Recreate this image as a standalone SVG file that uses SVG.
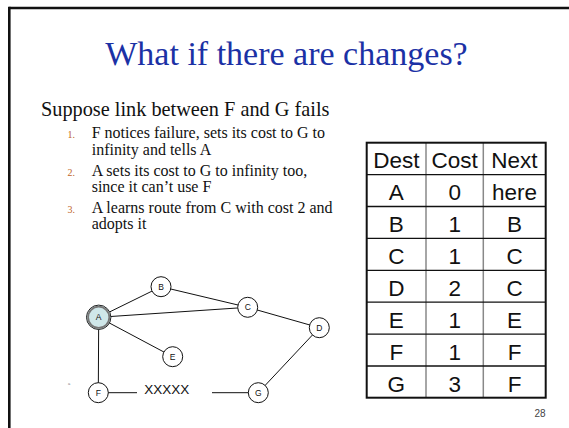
<svg xmlns="http://www.w3.org/2000/svg" width="569" height="428" viewBox="0 0 569 428">
<style>
.title{font-family:"Liberation Serif",serif;font-size:34px;fill:#1b31a5}
.body{font-family:"Liberation Serif",serif;fill:#111}
.num{font-family:"Liberation Serif",serif;font-size:10px;fill:#c0652a}
.node circle{fill:#fff;stroke:#111;stroke-width:1}
.node text{font-family:"Liberation Sans",Arial,sans-serif;font-size:8.5px;fill:#111;text-anchor:middle}
.edge{stroke:#111;stroke-width:1;fill:none}
.cell{font-family:"Liberation Sans",Arial,sans-serif;font-size:22.5px;fill:#111;text-anchor:middle}
</style>
<rect width="569" height="428" fill="#fff"/>
<line x1="9.3" y1="8" x2="569" y2="8" stroke="#111" stroke-width="2.6"/>
<line x1="9.3" y1="6.7" x2="9.3" y2="428" stroke="#111" stroke-width="2.6"/>
<text class="title" x="286.5" y="65" text-anchor="middle">What if there are changes?</text>
<text class="body" x="41" y="115.7" font-size="20.3">Suppose link between F and G fails</text>
<g class="body" font-size="16">
<text class="num" x="67.5" y="138.3">1.</text>
<text x="91.7" y="138.3">F notices failure, sets its cost to G to</text>
<text x="91.7" y="155">infinity and tells A</text>
<text class="num" x="67.5" y="176">2.</text>
<text x="91.7" y="176">A sets its cost to G to infinity too,</text>
<text x="91.7" y="191.7">since it can’t use F</text>
<text class="num" x="67.5" y="213.3">3.</text>
<text x="91.7" y="213.3">A learns route from C with cost 2 and</text>
<text x="91.7" y="229.3">adopts it</text>
</g>
<g id="connectors">
<line class="edge" x1="98.7" y1="317.3" x2="161" y2="286.7"/>
<line class="edge" x1="161" y1="286.7" x2="247.7" y2="307.3"/>
<line class="edge" x1="98.7" y1="317.3" x2="247.7" y2="307.3"/>
<line class="edge" x1="247.7" y1="307.3" x2="319.3" y2="327.7"/>
<line class="edge" x1="98.7" y1="317.3" x2="172.7" y2="356.7"/>
<line class="edge" x1="98.7" y1="317.3" x2="98.3" y2="392.7"/>
<line class="edge" x1="319.3" y1="327.7" x2="258.3" y2="392.7"/>
<line class="edge" x1="98.3" y1="392.7" x2="137" y2="392.7"/>
<line class="edge" x1="212" y1="392.7" x2="258.3" y2="392.7"/>
</g>
<text x="166.7" y="393.5" font-family="Liberation Sans,Arial,sans-serif" font-size="13.5" text-anchor="middle" fill="#111">XXXXX</text>
<text x="69" y="384.5" font-family="Liberation Sans,Arial,sans-serif" font-size="4" text-anchor="middle" fill="#777">a</text>
<g id="node-A" class="node">
<circle cx="98.7" cy="317.3" r="12.2" style="fill:#cfe7e9;stroke:#222;stroke-width:1"/>
<circle cx="98.7" cy="317.3" r="10.6" style="fill:#cfe7e9;stroke:#777;stroke-width:1.8"/>
<text x="98.7" y="320.3">A</text>
</g>
<g id="node-B" class="node"><circle cx="161" cy="286.7" r="10"/><text x="161" y="289.7">B</text></g>
<g id="node-C" class="node"><circle cx="247.7" cy="307.3" r="10"/><text x="247.7" y="310.3">C</text></g>
<g id="node-D" class="node"><circle cx="319.3" cy="327.7" r="10"/><text x="319.3" y="330.7">D</text></g>
<g id="node-E" class="node"><circle cx="172.7" cy="356.7" r="10"/><text x="172.7" y="359.7">E</text></g>
<g id="node-F" class="node"><circle cx="98.3" cy="392.7" r="10"/><text x="98.3" y="395.7">F</text></g>
<g id="node-G" class="node"><circle cx="258.3" cy="392.7" r="10"/><text x="258.3" y="395.7">G</text></g>
<g id="table">
<g stroke="#888" stroke-width="1.5">
<line x1="426" y1="142.7" x2="426" y2="397.7"/>
<line x1="483.3" y1="142.7" x2="483.3" y2="397.7"/>
</g>
<g stroke="#111" stroke-width="1.3">
<line x1="366.7" y1="174.6" x2="545.7" y2="174.6"/>
<line x1="366.7" y1="206.5" x2="545.7" y2="206.5"/>
<line x1="366.7" y1="238.4" x2="545.7" y2="238.4"/>
<line x1="366.7" y1="270.3" x2="545.7" y2="270.3"/>
<line x1="366.7" y1="302.2" x2="545.7" y2="302.2"/>
<line x1="366.7" y1="334.1" x2="545.7" y2="334.1"/>
<line x1="366.7" y1="366" x2="545.7" y2="366"/>
</g>
<rect x="366.7" y="142.7" width="179" height="255" fill="none" stroke="#111" stroke-width="2"/>
<g class="cell">
<text x="396.3" y="168.2">Dest</text><text x="454.7" y="168.2">Cost</text><text x="514.5" y="168.2">Next</text>
<text x="396.3" y="200.1">A</text><text x="454.7" y="200.1">0</text><text x="514.5" y="200.1">here</text>
<text x="396.3" y="232">B</text><text x="454.7" y="232">1</text><text x="514.5" y="232">B</text>
<text x="396.3" y="263.9">C</text><text x="454.7" y="263.9">1</text><text x="514.5" y="263.9">C</text>
<text x="396.3" y="295.8">D</text><text x="454.7" y="295.8">2</text><text x="514.5" y="295.8">C</text>
<text x="396.3" y="327.7">E</text><text x="454.7" y="327.7">1</text><text x="514.5" y="327.7">E</text>
<text x="396.3" y="359.6">F</text><text x="454.7" y="359.6">1</text><text x="514.5" y="359.6">F</text>
<text x="396.3" y="391.5">G</text><text x="454.7" y="391.5">3</text><text x="514.5" y="391.5">F</text>
</g>
</g>
<text x="540" y="417" font-family="Liberation Sans,Arial,sans-serif" font-size="10" text-anchor="middle" fill="#444">28</text>
</svg>
